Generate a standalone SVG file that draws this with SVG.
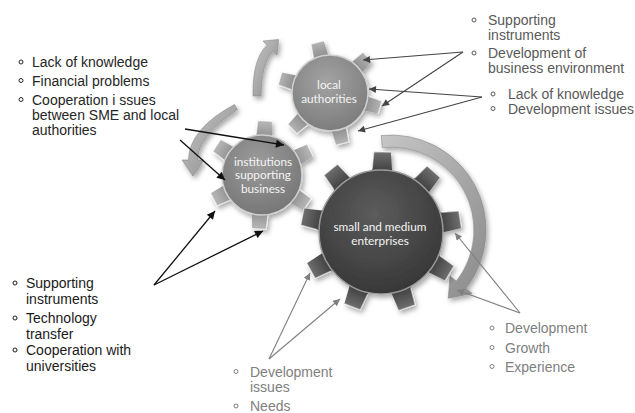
<svg xmlns="http://www.w3.org/2000/svg" xmlns:xlink="http://www.w3.org/1999/xlink" width="635" height="413" viewBox="0 0 635 413">
<style>
.t{font-family:"Liberation Sans",Arial,sans-serif;font-size:14px}
.tl{fill:#262626}
.tr{fill:#595959}
.lb{fill:#1a1a1a}
.g{fill:#808080}
.bl{fill:none;stroke-width:1}
.gt{font-family:Lato,"Open Sans",sans-serif;font-size:11.8px;fill:#f4f4f4;text-anchor:middle}
.c1{stroke:#111;stroke-width:1.3;fill:none}
.c2{stroke:#444;stroke-width:1.1;fill:none}
.c3{stroke:#7f7f7f;stroke-width:1.1;fill:none}
</style>
<defs>
<filter id="sh" x="-20%" y="-20%" width="150%" height="150%">
<feDropShadow dx="2" dy="3" stdDeviation="2.5" flood-color="#000" flood-opacity="0.35"/>
</filter>
<linearGradient id="tgL" gradientUnits="userSpaceOnUse" x1="30" y1="0" x2="52" y2="0">
<stop offset="0" stop-color="#7d7d7d"/><stop offset="1" stop-color="#b3b3b3"/>
</linearGradient>
<linearGradient id="tgS" gradientUnits="userSpaceOnUse" x1="55" y1="0" x2="80" y2="0">
<stop offset="0" stop-color="#333"/><stop offset="1" stop-color="#6e6e6e"/>
</linearGradient>
<radialGradient id="bL" cx="0.45" cy="0.35" r="0.7">
<stop offset="0" stop-color="#a3a3a3"/><stop offset="1" stop-color="#7a7a7a"/>
</radialGradient>
<radialGradient id="bI" cx="0.45" cy="0.35" r="0.7">
<stop offset="0" stop-color="#9c9c9c"/><stop offset="1" stop-color="#747474"/>
</radialGradient>
<radialGradient id="bS" cx="0.45" cy="0.35" r="0.7">
<stop offset="0" stop-color="#5c5c5c"/><stop offset="1" stop-color="#353535"/>
</radialGradient>
<linearGradient id="ag" x1="0" y1="0" x2="1" y2="1">
<stop offset="0" stop-color="#c6c6c6"/><stop offset="1" stop-color="#8a8a8a"/>
</linearGradient>
<g id="tL"><path d="M30 -8 L52 -6.5 L52 6.5 L30 8 Z"/><path d="M38 -7.4 L52 -6.5 L52 6.5" fill="none" stroke="#fff" stroke-opacity="0.55" stroke-width="1.2"/></g>
<g id="tI"><path d="M32 -8.5 L54 -7 L54 7 L32 8.5 Z"/><path d="M40 -8 L54 -7 L54 7" fill="none" stroke="#fff" stroke-opacity="0.55" stroke-width="1.2"/></g>
<g id="tS"><path d="M55 -10.5 L80 -8.5 L80 8.5 L55 10.5 Z"/><path d="M63 -9.8 L80 -8.5 L80 8.5" fill="none" stroke="#fff" stroke-opacity="0.45" stroke-width="1.2"/></g>
<marker id="m1" viewBox="0 0 10 10" refX="10" refY="5" markerUnits="userSpaceOnUse" markerWidth="10" markerHeight="8" orient="auto"><path d="M0 0 L10 5 L0 10 Z" fill="#111"/></marker>
<marker id="m2" viewBox="0 0 10 10" refX="10" refY="5" markerUnits="userSpaceOnUse" markerWidth="9" markerHeight="7" orient="auto"><path d="M0 0 L10 5 L0 10 Z" fill="#444"/></marker>
<marker id="m3" viewBox="0 0 10 10" refX="10" refY="5" markerUnits="userSpaceOnUse" markerWidth="9" markerHeight="7" orient="auto"><path d="M0 0 L10 5 L0 10 Z" fill="#7f7f7f"/></marker>
</defs>
<rect width="635" height="413" fill="#fff"/>

<g id="cycle-arrows" fill="url(#ag)" stroke="#8a8a8a" stroke-width="0.6" filter="url(#sh)">
<path d="M253 96 Q252.5 58 267.2 45.2 L263 41 L278.5 39.5 L277 55 L272.8 50.8 Q261 64 261 96 Z"/>
<path d="M234.5 104.5 Q189 129 188.5 160 L182 160 L193 176 L204 160 L197.5 160 Q197.5 136 237.5 109.5 Z"/>
<path d="M381.2 135.5 A95 95 0 0 1 465.9 288.5 L472.2 293.4 L448.2 298.2 L450.1 276.2 L456.4 281.1 A83 83 0 0 0 382.3 147.5 Z"/>
</g>

<g id="local-authorities">
<g transform="translate(330 93)" filter="url(#sh)">
<use xlink:href="#tL" href="#tL" fill="url(#tgL)" transform="rotate(-104)"/>
<use xlink:href="#tL" href="#tL" fill="url(#tgL)" transform="rotate(-44)"/>
<use xlink:href="#tL" href="#tL" fill="url(#tgL)" transform="rotate(16)"/>
<use xlink:href="#tL" href="#tL" fill="url(#tgL)" transform="rotate(76)"/>
<use xlink:href="#tL" href="#tL" fill="url(#tgL)" transform="rotate(136)"/>
<use xlink:href="#tL" href="#tL" fill="url(#tgL)" transform="rotate(196)"/>
<circle r="38" fill="url(#bL)" stroke="#cfcfcf" stroke-width="1.5"/>
</g>
<text class="gt" x="329" y="88.5">local</text>
<text class="gt" x="329" y="103">authorities</text>
</g>

<g id="institutions-supporting-business">
<g transform="translate(262 175)" filter="url(#sh)">
<use xlink:href="#tI" href="#tI" fill="url(#tgL)" transform="rotate(-87)"/>
<use xlink:href="#tI" href="#tI" fill="url(#tgL)" transform="rotate(-27)"/>
<use xlink:href="#tI" href="#tI" fill="url(#tgL)" transform="rotate(33)"/>
<use xlink:href="#tI" href="#tI" fill="url(#tgL)" transform="rotate(93)"/>
<use xlink:href="#tI" href="#tI" fill="url(#tgL)" transform="rotate(153)"/>
<use xlink:href="#tI" href="#tI" fill="url(#tgL)" transform="rotate(213)"/>
<circle r="40" fill="url(#bI)" stroke="#cfcfcf" stroke-width="1.5"/>
</g>
<text class="gt" x="263" y="165.5">institutions</text>
<text class="gt" x="263" y="179">supporting</text>
<text class="gt" x="263" y="192.5">business</text>
</g>

<g id="small-and-medium-enterprises">
<g transform="translate(381 232)" filter="url(#sh)">
<use xlink:href="#tS" href="#tS" fill="url(#tgS)" transform="rotate(-9)"/>
<use xlink:href="#tS" href="#tS" fill="url(#tgS)" transform="rotate(31)"/>
<use xlink:href="#tS" href="#tS" fill="url(#tgS)" transform="rotate(71)"/>
<use xlink:href="#tS" href="#tS" fill="url(#tgS)" transform="rotate(111)"/>
<use xlink:href="#tS" href="#tS" fill="url(#tgS)" transform="rotate(151)"/>
<use xlink:href="#tS" href="#tS" fill="url(#tgS)" transform="rotate(191)"/>
<use xlink:href="#tS" href="#tS" fill="url(#tgS)" transform="rotate(231)"/>
<use xlink:href="#tS" href="#tS" fill="url(#tgS)" transform="rotate(271)"/>
<use xlink:href="#tS" href="#tS" fill="url(#tgS)" transform="rotate(311)"/>
<circle r="62" fill="url(#bS)" stroke="#9a9a9a" stroke-width="1.5"/>
</g>
<text class="gt" x="380" y="230.5">small and medium</text>
<text class="gt" x="380" y="244.5">enterprises</text>
</g>

<g id="connectors">
<line class="c1" x1="185" y1="129" x2="284" y2="145" marker-end="url(#m1)"/>
<line class="c1" x1="180" y1="140" x2="225" y2="180" marker-end="url(#m1)"/>
<line class="c1" x1="154" y1="285" x2="215" y2="211" marker-end="url(#m1)"/>
<line class="c1" x1="154" y1="285" x2="263" y2="231" marker-end="url(#m1)"/>
<line class="c2" x1="463" y1="52" x2="363" y2="60" marker-end="url(#m2)"/>
<line class="c2" x1="463" y1="52" x2="382" y2="106" marker-end="url(#m2)"/>
<line class="c2" x1="482" y1="97" x2="369" y2="89" marker-end="url(#m2)"/>
<line class="c2" x1="482" y1="97" x2="358" y2="131" marker-end="url(#m2)"/>
<line class="c3" x1="269" y1="359" x2="310" y2="273" marker-end="url(#m3)"/>
<line class="c3" x1="269" y1="359" x2="340" y2="299" marker-end="url(#m3)"/>
<line class="c3" x1="520" y1="313" x2="455" y2="233" marker-end="url(#m3)"/>
<line class="c3" x1="520" y1="313" x2="457" y2="290" marker-end="url(#m3)"/>
</g>

<g id="list-top-left">
<circle class="bl" cx="21" cy="62" r="2" stroke="#262626"/>
<circle class="bl" cx="21" cy="80.5" r="2" stroke="#262626"/>
<circle class="bl" cx="21" cy="99.5" r="2" stroke="#262626"/>
<text class="t tl" x="32" y="67">Lack of knowledge</text>
<text class="t tl" x="32" y="85.5">Financial problems</text>
<text class="t tl" x="32" y="104.5">Cooperation i ssues</text>
<text class="t tl" x="32" y="119.5">between SME and local</text>
<text class="t tl" x="32" y="134.5">authorities</text>
</g>

<g id="list-top-right">
<circle class="bl" cx="474" cy="20" r="2" stroke="#595959"/>
<circle class="bl" cx="474" cy="53" r="2" stroke="#595959"/>
<circle class="bl" cx="493" cy="94" r="2" stroke="#595959"/>
<circle class="bl" cx="493" cy="108.5" r="2" stroke="#595959"/>
<text class="t tr" x="488" y="25">Supporting</text>
<text class="t tr" x="488" y="39.5">instruments</text>
<text class="t tr" x="488" y="58">Development of</text>
<text class="t tr" x="488" y="73">business environment</text>
<text class="t tr" x="508" y="99">Lack of knowledge</text>
<text class="t tr" x="508" y="113.5">Development issues</text>
</g>

<g id="list-bottom-left">
<circle class="bl" cx="15" cy="283" r="2" stroke="#1a1a1a"/>
<circle class="bl" cx="15" cy="318" r="2" stroke="#1a1a1a"/>
<circle class="bl" cx="15" cy="350" r="2" stroke="#1a1a1a"/>
<text class="t lb" x="26" y="288">Supporting</text>
<text class="t lb" x="26" y="304">instruments</text>
<text class="t lb" x="26" y="323">Technology</text>
<text class="t lb" x="26" y="338.5">transfer</text>
<text class="t lb" x="26" y="355">Cooperation with</text>
<text class="t lb" x="26" y="370.5">universities</text>
</g>

<g id="list-bottom-center">
<circle class="bl" cx="236" cy="371.5" r="2" stroke="#808080"/>
<circle class="bl" cx="236" cy="406" r="2" stroke="#808080"/>
<text class="t g" x="250" y="376.5">Development</text>
<text class="t g" x="250" y="392">issues</text>
<text class="t g" x="250" y="411">Needs</text>
</g>

<g id="list-bottom-right">
<circle class="bl" cx="492" cy="328" r="2" stroke="#808080"/>
<circle class="bl" cx="492" cy="347.5" r="2" stroke="#808080"/>
<circle class="bl" cx="492" cy="366.5" r="2" stroke="#808080"/>
<text class="t g" x="505" y="333">Development</text>
<text class="t g" x="505" y="352.5">Growth</text>
<text class="t g" x="505" y="371.5">Experience</text>
</g>
</svg>
